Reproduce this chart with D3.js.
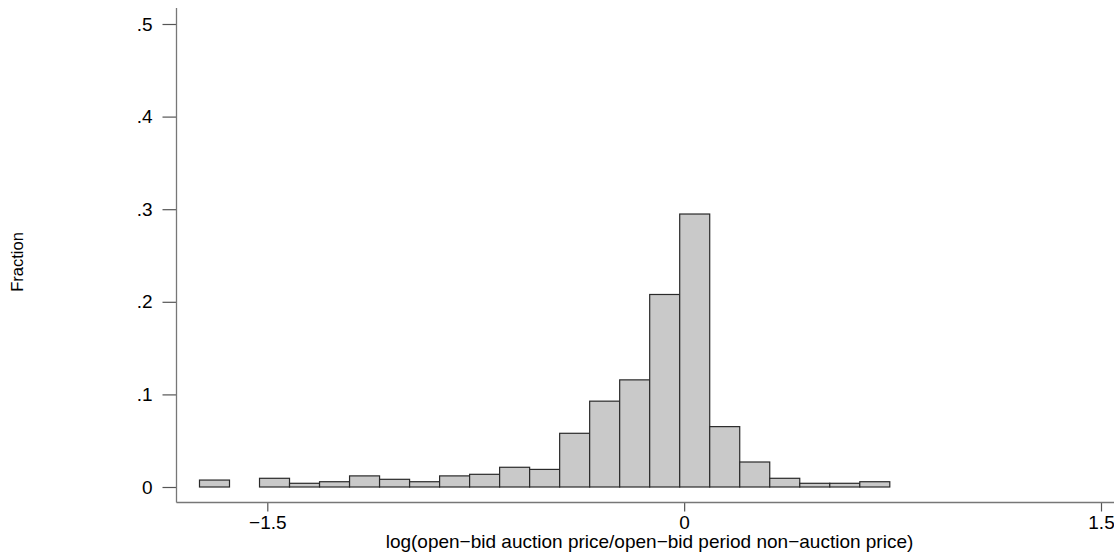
<!DOCTYPE html>
<html>
<head>
<meta charset="utf-8">
<script src="https://cdn.jsdelivr.net/npm/d3@7"></script>
<style>
  html, body { margin: 0; padding: 0; background: #fff; }
  svg { display: block; font-family: "Liberation Sans", Arial, Helvetica, sans-serif; }
</style>
</head>
<body>
<svg id="chart" width="1114" height="554"></svg>
<script>
// Histogram of log price ratios: lower bin edges and fraction of observations per bin
const binLower = [-1.744, -1.636, -1.528, -1.420, -1.312, -1.204, -1.096, -0.988,
                  -0.880, -0.772, -0.664, -0.556, -0.448, -0.340, -0.232, -0.124,
                  -0.016, 0.092, 0.200, 0.308, 0.416, 0.524, 0.632];
const binWidth = 0.108;
const fractions = [0.0075, 0, 0.0094, 0.004, 0.0057, 0.012, 0.0083, 0.0057,
                   0.012, 0.0137, 0.0213, 0.019, 0.058, 0.0927, 0.1157, 0.2079,
                   0.2948, 0.0652, 0.027, 0.0094, 0.004, 0.004, 0.0057];

const xTicks = [-1.5, 0, 1.5];
const yTicks = [0, 0.1, 0.2, 0.3, 0.4, 0.5];
const xTitle = "log(open\u2212bid auction price/open\u2212bid period non\u2212auction price)";
const yTitle = "Fraction";

const svg = d3.select("#chart");

const x = d3.scaleLinear().domain([-1.5, 1.5]).range([267.3, 1101]);
const y = d3.scaleLinear().domain([0, 0.5]).range([487, 24]);

const axisLeftX = 176.5, axisBottomY = 502.5;
const labelFont = "Liberation Sans, Arial, sans-serif";

// bars
const bins = binLower.map((lo, i) => ({ lo, hi: lo + binWidth, v: fractions[i] }))
  .filter(d => d.v > 0);
svg.append("g")
  .selectAll("rect")
  .data(bins)
  .join("rect")
  .attr("x", d => x(d.lo))
  .attr("y", d => y(d.v))
  .attr("width", d => x(d.hi) - x(d.lo))
  .attr("height", d => y(0) - y(d.v))
  .attr("fill", "#c9c9c9")
  .attr("stroke", "#2a2a2a")
  .attr("stroke-width", 1.2);

// y axis
const fmtY = v => v === 0 ? "0" : d3.format(".1f")(v).replace(/^0/, "");
const yAxis = d3.axisLeft(y).tickValues(yTicks).tickFormat(fmtY).tickSize(14).tickPadding(10);
const gy = svg.append("g").attr("transform", `translate(${axisLeftX},0)`).call(yAxis);
gy.select(".domain").remove();
gy.selectAll(".tick line").attr("stroke", "#555").attr("stroke-width", 1.2);
gy.selectAll(".tick text").attr("font-size", 19).attr("fill", "#000")
  .attr("font-family", labelFont);
svg.append("line")
  .attr("x1", axisLeftX).attr("x2", axisLeftX)
  .attr("y1", 8).attr("y2", axisBottomY)
  .attr("stroke", "#777").attr("stroke-width", 1.3);

// x axis
const fmtX = v => v === 0 ? "0" : (v < 0 ? "\u2212" : "") + Math.abs(v).toFixed(1);
const xAxis = d3.axisBottom(x).tickValues(xTicks).tickFormat(fmtX).tickSize(9).tickPadding(4);
const gx = svg.append("g").attr("transform", `translate(0,${axisBottomY})`).call(xAxis);
gx.select(".domain").remove();
gx.selectAll(".tick line").attr("stroke", "#555").attr("stroke-width", 1.2);
gx.selectAll(".tick text").attr("font-size", 19).attr("fill", "#000")
  .attr("font-family", labelFont);
svg.append("line")
  .attr("x1", axisLeftX).attr("x2", 1114)
  .attr("y1", axisBottomY).attr("y2", axisBottomY)
  .attr("stroke", "#777").attr("stroke-width", 1.3);

// titles
svg.append("text")
  .attr("x", 649.5).attr("y", 548)
  .attr("text-anchor", "middle")
  .attr("font-size", 19)
  .text(xTitle);

svg.append("text")
  .attr("transform", "translate(23,262) rotate(-90)")
  .attr("text-anchor", "middle")
  .attr("font-size", 16.5)
  .text(yTitle);
</script>
</body>
</html>
